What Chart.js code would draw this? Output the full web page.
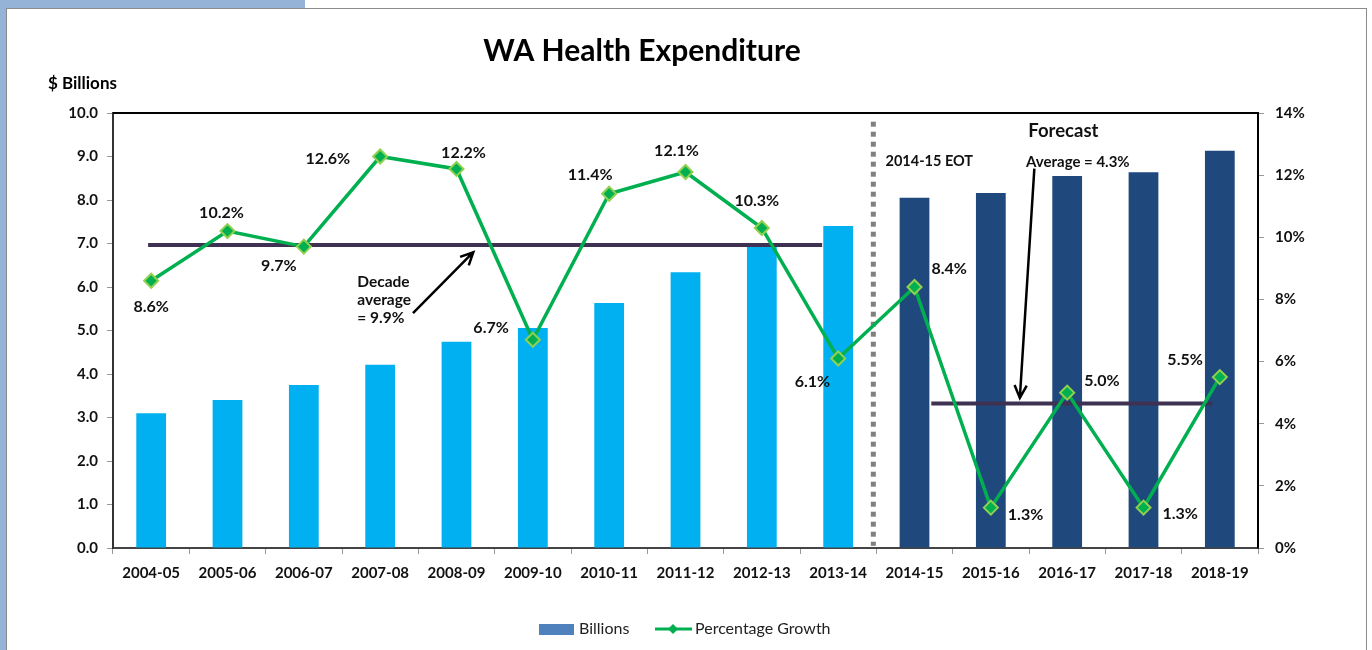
<!DOCTYPE html>
<html>
<head>
<meta charset="utf-8">
<script src="https://cdn.jsdelivr.net/npm/chart.js@4.4.0/dist/chart.umd.min.js"></script>
<style>
  html, body { margin: 0; padding: 0; background: #fff; }
  #marco { position: absolute; left: 0; top: 0; width: 1372px; height: 650px; overflow: hidden; }
  .tira-arriba { position: absolute; left: 0; top: 0; width: 305px; height: 8px; background: #95B3D7; }
  .tira-izq { position: absolute; left: 0; top: 0; width: 6px; height: 650px; background: #95B3D7; }
  .borde { position: absolute; left: 6px; top: 8px; width: 1359px; height: 660px; border: 1px solid #8c8c8c; background: #fff; }
  #grafico { position: absolute; left: 0; top: 0; }
</style>
</head>
<body>
<div id="marco">
  <div class="tira-arriba"></div>
  <div class="tira-izq"></div>
  <div class="borde"></div>
  <canvas id="grafico" width="1372" height="650"></canvas>
</div>
<script>
// Datos
const periodos = ['2004-05', '2005-06', '2006-07', '2007-08', '2008-09', '2009-10', '2010-11',
                  '2011-12', '2012-13', '2013-14', '2014-15', '2015-16', '2016-17', '2017-18', '2018-19'];
const gastoMiles = [3.10, 3.40, 3.75, 4.21, 4.74, 5.06, 5.63, 6.34, 6.99, 7.40, 8.05, 8.16, 8.55, 8.64, 9.13];
const crecimiento = [8.6, 10.2, 9.7, 12.6, 12.2, 6.7, 11.4, 12.1, 10.3, 6.1, 8.4, 1.3, 5.0, 1.3, 5.5];
// Líneas de media: tramo (en posiciones de categoría) y valor en %
const mediaDecada = [{ x: -0.04, y: 9.75 }, { x: 8.79, y: 9.75 }];
const mediaPrevision = [{ x: 10.22, y: 4.65 }, { x: 13.9, y: 4.65 }];
const ticksIzq = [0, 1, 2, 3, 4, 5, 6, 7, 8, 9, 10];
const ticksDer = [0, 2, 4, 6, 8, 10, 12, 14];
const primerPrevision = 10;

// Colocación de las etiquetas de porcentaje (dx, dy respecto al punto, alineación)
const etiquetasPos = [
    [0, 26, 'center'], [-6, -18, 'center'], [-25, 19, 'center'], [-30, 2, 'right'],
    [7, -16, 'center'], [-24, -12, 'right'], [-19, -19, 'center'], [-9, -21, 'center'],
    [-5, -27, 'center'], [-8, 23, 'right'], [17, -18, 'left'], [17, 7, 'left'],
    [17, -12, 'left'], [19, 6, 'left'], [-17, -17, 'right']
];

const fuente = 'Lato, "Open Sans", sans-serif';
const colores = {
    real: '#00B0F0',
    prevision: '#1F497D',
    leyendaBarras: '#4F81BD',
    linea: '#00B050',
    marcaBorde: '#92D050',
    media: '#3F3151',
    separador: '#808080'
};

function flecha(ctx, x1, y1, x2, y2) {
    const ang = Math.atan2(y2 - y1, x2 - x1);
    const largo = 14;
    ctx.save();
    ctx.strokeStyle = '#000';
    ctx.lineWidth = 2.5;
    ctx.beginPath();
    ctx.moveTo(x1, y1);
    ctx.lineTo(x2, y2);
    ctx.moveTo(x2 - largo * Math.cos(ang - 0.45), y2 - largo * Math.sin(ang - 0.45));
    ctx.lineTo(x2, y2);
    ctx.lineTo(x2 - largo * Math.cos(ang + 0.45), y2 - largo * Math.sin(ang + 0.45));
    ctx.stroke();
    ctx.restore();
}

const pluginDecorado = {
    id: 'decorado',
    beforeDatasetsDraw(chart) {
        const ctx = chart.ctx;
        const x = chart.scales.x, y = chart.scales.y;
        // Línea punteada entre datos reales y previsión
        const xs = (x.getPixelForValue(primerPrevision - 1) + x.getPixelForValue(primerPrevision)) / 2 - 3;
        ctx.save();
        ctx.strokeStyle = colores.separador;
        ctx.lineWidth = 5;
        ctx.setLineDash([5, 5]);
        ctx.beginPath();
        ctx.moveTo(xs, y.getPixelForValue(9.8));
        ctx.lineTo(xs, y.getPixelForValue(0.05));
        ctx.stroke();
        ctx.restore();
    },
    afterDatasetsDraw(chart) {
        const ctx = chart.ctx;
        const area = chart.chartArea;
        const x = chart.scales.x, y = chart.scales.y;

        // Borde del área de trazado (arriba y derecha)
        ctx.save();
        ctx.strokeStyle = '#000';
        ctx.lineWidth = 2;
        ctx.beginPath();
        ctx.moveTo(area.left, area.top);
        ctx.lineTo(area.right, area.top);
        ctx.lineTo(area.right, area.bottom);
        ctx.stroke();
        ctx.restore();

        // Etiquetas de porcentaje
        const meta = chart.getDatasetMeta(1);
        ctx.save();
        ctx.font = 'bold 16px ' + fuente;
        ctx.fillStyle = '#111';
        ctx.textBaseline = 'middle';
        meta.data.forEach((p, i) => {
            const [dx, dy, al] = etiquetasPos[i];
            ctx.textAlign = al;
            ctx.fillText(crecimiento[i].toFixed(1) + '%', p.x + dx, p.y + dy);
        });
        ctx.restore();

        // Anotaciones
        ctx.save();
        ctx.fillStyle = '#111';
        ctx.textBaseline = 'middle';
        ctx.font = 'bold 15.5px ' + fuente;
        ctx.textAlign = 'left';
        ctx.fillText('Decade', x.getPixelForValue(2.7), y.getPixelForValue(6.11));
        ctx.fillText('average', x.getPixelForValue(2.7), y.getPixelForValue(5.70));
        ctx.fillText('= 9.9%', x.getPixelForValue(2.7), y.getPixelForValue(5.29));
        ctx.font = 'bold 14.5px ' + fuente;
        ctx.fillText('2014-15 EOT', x.getPixelForValue(9.62), y.getPixelForValue(8.9));
        ctx.font = 'bold 18.5px ' + fuente;
        ctx.textAlign = 'center';
        ctx.fillText('Forecast', x.getPixelForValue(11.95), y.getPixelForValue(9.58));
        ctx.font = 'bold 15px ' + fuente;
        ctx.fillText('Average = 4.3%', x.getPixelForValue(12.14), y.getPixelForValue(8.87));
        ctx.restore();

        flecha(ctx, x.getPixelForValue(3.43), y.getPixelForValue(5.40), x.getPixelForValue(4.22), y.getPixelForValue(6.80));
        flecha(ctx, x.getPixelForValue(11.57), y.getPixelForValue(8.72), x.getPixelForValue(11.38), y.getPixelForValue(3.45));

        // Título y rótulo del eje
        ctx.save();
        ctx.fillStyle = '#000';
        ctx.textBaseline = 'middle';
        ctx.textAlign = 'center';
        ctx.font = 'bold 30px ' + fuente;
        ctx.fillText('WA Health Expenditure', 642, 51);
        ctx.font = 'bold 17px ' + fuente;
        ctx.textAlign = 'left';
        ctx.fillText('$ Billions', 48, 84);
        ctx.restore();

        // Leyenda
        ctx.save();
        const ly = 629;
        ctx.fillStyle = colores.leyendaBarras;
        ctx.fillRect(539, ly - 5, 35, 11);
        ctx.font = '16px ' + fuente;
        ctx.fillStyle = '#222';
        ctx.textBaseline = 'middle';
        ctx.textAlign = 'left';
        ctx.fillText('Billions', 579, ly);
        ctx.strokeStyle = colores.linea;
        ctx.lineWidth = 3;
        ctx.beginPath();
        ctx.moveTo(655, ly);
        ctx.lineTo(692, ly);
        ctx.stroke();
        ctx.fillStyle = colores.linea;
        ctx.beginPath();
        ctx.moveTo(673, ly - 5);
        ctx.lineTo(678, ly);
        ctx.lineTo(673, ly + 5);
        ctx.lineTo(668, ly);
        ctx.closePath();
        ctx.fill();
        ctx.fillStyle = '#222';
        ctx.fillText('Percentage Growth', 695, ly);
        ctx.restore();
    }
};

const ctx = document.getElementById('grafico').getContext('2d');
new Chart(ctx, {
    type: 'bar',
    data: {
        labels: periodos,
        datasets: [
            {
                label: 'Billions',
                data: gastoMiles,
                backgroundColor: gastoMiles.map((v, i) => i >= primerPrevision ? colores.prevision : colores.real),
                borderWidth: 0,
                barPercentage: 0.39,
                categoryPercentage: 1,
                grouped: false,
                yAxisID: 'y',
                order: 3
            },
            {
                type: 'line',
                label: 'Percentage Growth',
                data: crecimiento,
                borderColor: colores.linea,
                borderWidth: 3.5,
                pointStyle: 'rectRot',
                pointRadius: 7,
                pointBackgroundColor: colores.linea,
                pointBorderColor: colores.marcaBorde,
                pointBorderWidth: 2,
                tension: 0,
                yAxisID: 'y1',
                order: 1
            },
            {
                type: 'line',
                label: 'Decade average',
                data: mediaDecada,
                borderColor: colores.media,
                borderWidth: 4,
                pointRadius: 0,
                xAxisID: 'x2',
                yAxisID: 'y1',
                order: 2
            },
            {
                type: 'line',
                label: 'Forecast average',
                data: mediaPrevision,
                borderColor: colores.media,
                borderWidth: 4,
                pointRadius: 0,
                xAxisID: 'x2',
                yAxisID: 'y1',
                order: 2
            }
        ]
    },
    options: {
        responsive: false,
        animation: false,
        layout: { padding: { top: 113, bottom: 62, left: 0, right: 0 } },
        plugins: {
            legend: { display: false },
            title: { display: false },
            tooltip: { enabled: false }
        },
        scales: {
            x: {
                afterFit: s => { s.height = 40; },
                grid: { drawOnChartArea: false, drawTicks: true, tickLength: 6, color: '#999', offset: true },
                border: { color: '#444', width: 2 },
                ticks: { color: '#111', font: { family: fuente, size: 15, weight: 'bold' }, padding: 10, maxRotation: 0 }
            },
            x2: {
                type: 'linear',
                display: false,
                offset: false,
                grid: { offset: false },
                min: -0.5,
                max: periodos.length - 0.5
            },
            y: {
                position: 'left',
                min: 0, max: 10,
                afterFit: s => { s.width = 113; },
                afterBuildTicks: s => { s.ticks = ticksIzq.map(v => ({ value: v })); },
                grid: { drawOnChartArea: false, tickLength: 6, color: '#999' },
                border: { color: '#333', width: 2 },
                ticks: { color: '#111', font: { family: fuente, size: 15, weight: 'bold' }, padding: 9,
                         callback: v => v.toFixed(1) }
            },
            y1: {
                position: 'right',
                min: 0, max: 14,
                afterFit: s => { s.width = 114; },
                afterBuildTicks: s => { s.ticks = ticksDer.map(v => ({ value: v })); },
                grid: { drawOnChartArea: false, tickLength: 6, color: '#999' },
                border: { color: '#333', width: 2 },
                ticks: { color: '#111', font: { family: fuente, size: 15, weight: 'bold' }, padding: 11,
                         callback: v => v + '%' }
            }
        }
    },
    plugins: [pluginDecorado]
});
</script>
</body>
</html>
